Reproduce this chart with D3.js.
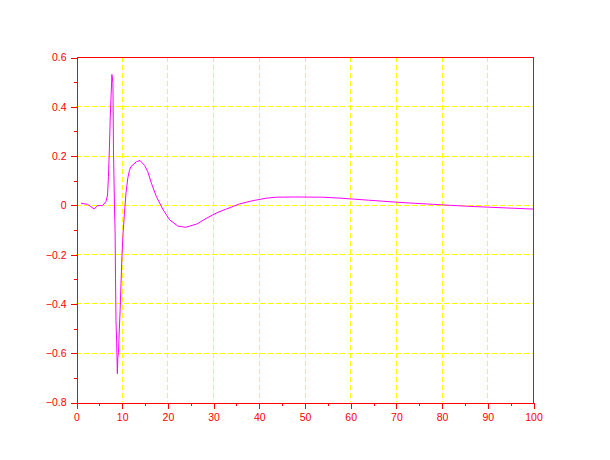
<!DOCTYPE html>
<html>
<head>
<meta charset="utf-8">
<script src="https://cdn.jsdelivr.net/npm/d3@7"></script>
<style>
  html, body { margin: 0; padding: 0; background: #fff; }
  svg { display: block; }
</style>
</head>
<body>
<svg id="chart" width="610" height="460"></svg>
<script>
// ---- data ----
const xValues = [1.1, 2.55, 4.0, 4.7, 5.8, 6.55, 6.9, 7.1, 7.3, 7.5, 7.7, 7.86, 8.08, 8.2, 8.45,
  8.55, 8.65, 8.75, 8.9, 9.05, 9.15, 9.3, 9.45, 9.65, 9.85, 10.05, 10.3, 10.6, 10.95, 11.35, 11.7,
  12.0, 12.5, 13.2, 14.0, 15.0, 15.7, 16.5, 17.6, 19.1, 20.5, 22.3, 24.0, 26.4, 28.5, 30.0, 31.1,
  32.9, 35.8, 38.7, 41.6, 43.8, 48.0, 54.0, 58.0, 61.0, 64.0, 67.0, 70.0, 74.0, 78.0, 82.0, 86.0,
  91.0, 96.0, 100.0];
const yValues = [0.0065, 0.002, -0.017, -0.003, -0.003, 0.013, 0.04, 0.115, 0.223, 0.36, 0.454, 0.529, 0.495, 0.223, -0.033,
  -0.1, -0.3, -0.47, -0.56, -0.685, -0.62, -0.6, -0.52, -0.43, -0.32, -0.21, -0.115, -0.035, 0.05, 0.11, 0.14,
  0.155, 0.163, 0.175, 0.18, 0.16, 0.135, 0.088, 0.033, -0.021, -0.061, -0.086, -0.091, -0.078, -0.055, -0.04, -0.03,
  -0.017, 0.004, 0.017, 0.027, 0.031, 0.032, 0.031, 0.027, 0.023, 0.019, 0.015, 0.011, 0.0065, 0.0024, -0.002, -0.006,
  -0.010, -0.014, -0.017];
const xTicks = [0, 10, 20, 30, 40, 50, 60, 70, 80, 90, 100];
const yTicks = [-0.8, -0.6, -0.4, -0.2, 0, 0.2, 0.4, 0.6];
const xMinorTicks = [5, 15, 25, 35, 45, 55, 65, 75, 85, 95];
const yMinorTicks = [-0.7, -0.5, -0.3, -0.1, 0.1, 0.3, 0.5];

// ---- layout ----
const L = 76, R = 533, T = 57, B = 402;
const svg = d3.select("#chart");
const x = d3.scaleLinear().domain([0, 100]).range([L, R]);
const y = d3.scaleLinear().domain([-0.8, 0.6]).range([B, T]);
const red = "#ff0000", yellow = "#ffff00", magenta = "#ff00ff";
const fontFamily = "'Liberation Sans', Arial, sans-serif";

// grid
const grid = svg.append("g").attr("shape-rendering", "crispEdges");
grid.selectAll("line.gx").data(xTicks.filter(d => d > 0 && d < 100)).enter().append("line")
  .attr("x1", d => Math.round(x(d)) + 0.5).attr("x2", d => Math.round(x(d)) + 0.5)
  .attr("y1", T).attr("y2", B)
  .attr("stroke", yellow).attr("stroke-dasharray", "5,3");
grid.selectAll("line.gy").data(yTicks.filter(d => d > -0.8 && d < 0.6)).enter().append("line")
  .attr("y1", d => Math.round(y(d)) + 0.5).attr("y2", d => Math.round(y(d)) + 0.5)
  .attr("x1", L).attr("x2", R)
  .attr("stroke", yellow).attr("stroke-dasharray", "5,3");

// data line
const pts = xValues.map((v, i) => [v, yValues[i]]);
svg.append("path")
  .datum(pts)
  .attr("fill", "none")
  .attr("stroke", magenta)
  .attr("stroke-width", 1)
  .attr("d", d3.line().x(d => x(d[0])).y(d => y(d[1])));

// frame (top/right)
svg.append("line").attr("x1", L + 0.5).attr("x2", R + 0.5).attr("y1", T + 0.5).attr("y2", T + 0.5)
  .attr("stroke", red).attr("shape-rendering", "crispEdges");
svg.append("line").attr("x1", R + 0.5).attr("x2", R + 0.5).attr("y1", T + 0.5).attr("y2", B + 0.5)
  .attr("stroke", red).attr("shape-rendering", "crispEdges");

function styleAxis(g) {
  g.attr("shape-rendering", "crispEdges");
  g.select(".domain").attr("stroke", red);
  g.selectAll(".tick line").attr("stroke", red);
  g.selectAll(".tick text").attr("fill", red).attr("font-family", fontFamily).attr("font-size", "10.5px");
}

// x axis
const xAxisG = svg.append("g").attr("transform", `translate(0.5,${B + 0.5})`)
  .call(d3.axisBottom(x).tickValues(xTicks).tickSize(6).tickSizeOuter(0).tickFormat(d3.format("d")).tickPadding(5));
styleAxis(xAxisG);
const xMinorG = svg.append("g").attr("transform", `translate(0.5,${B + 0.5})`)
  .call(d3.axisBottom(x).tickValues(xMinorTicks).tickSize(3).tickSizeOuter(0).tickFormat(""));
styleAxis(xMinorG);

// y axis
const yAxisG = svg.append("g").attr("transform", `translate(${L + 0.5},0.5)`)
  .call(d3.axisLeft(y).tickValues(yTicks).tickSize(6).tickSizeOuter(0)
    .tickFormat(d => d === 0 ? "0" : d3.format(".1f")(d)).tickPadding(4));
styleAxis(yAxisG);
const yMinorG = svg.append("g").attr("transform", `translate(${L + 0.5},0.5)`)
  .call(d3.axisLeft(y).tickValues(yMinorTicks).tickSize(3).tickSizeOuter(0).tickFormat(""));
styleAxis(yMinorG);
</script>
</body>
</html>
